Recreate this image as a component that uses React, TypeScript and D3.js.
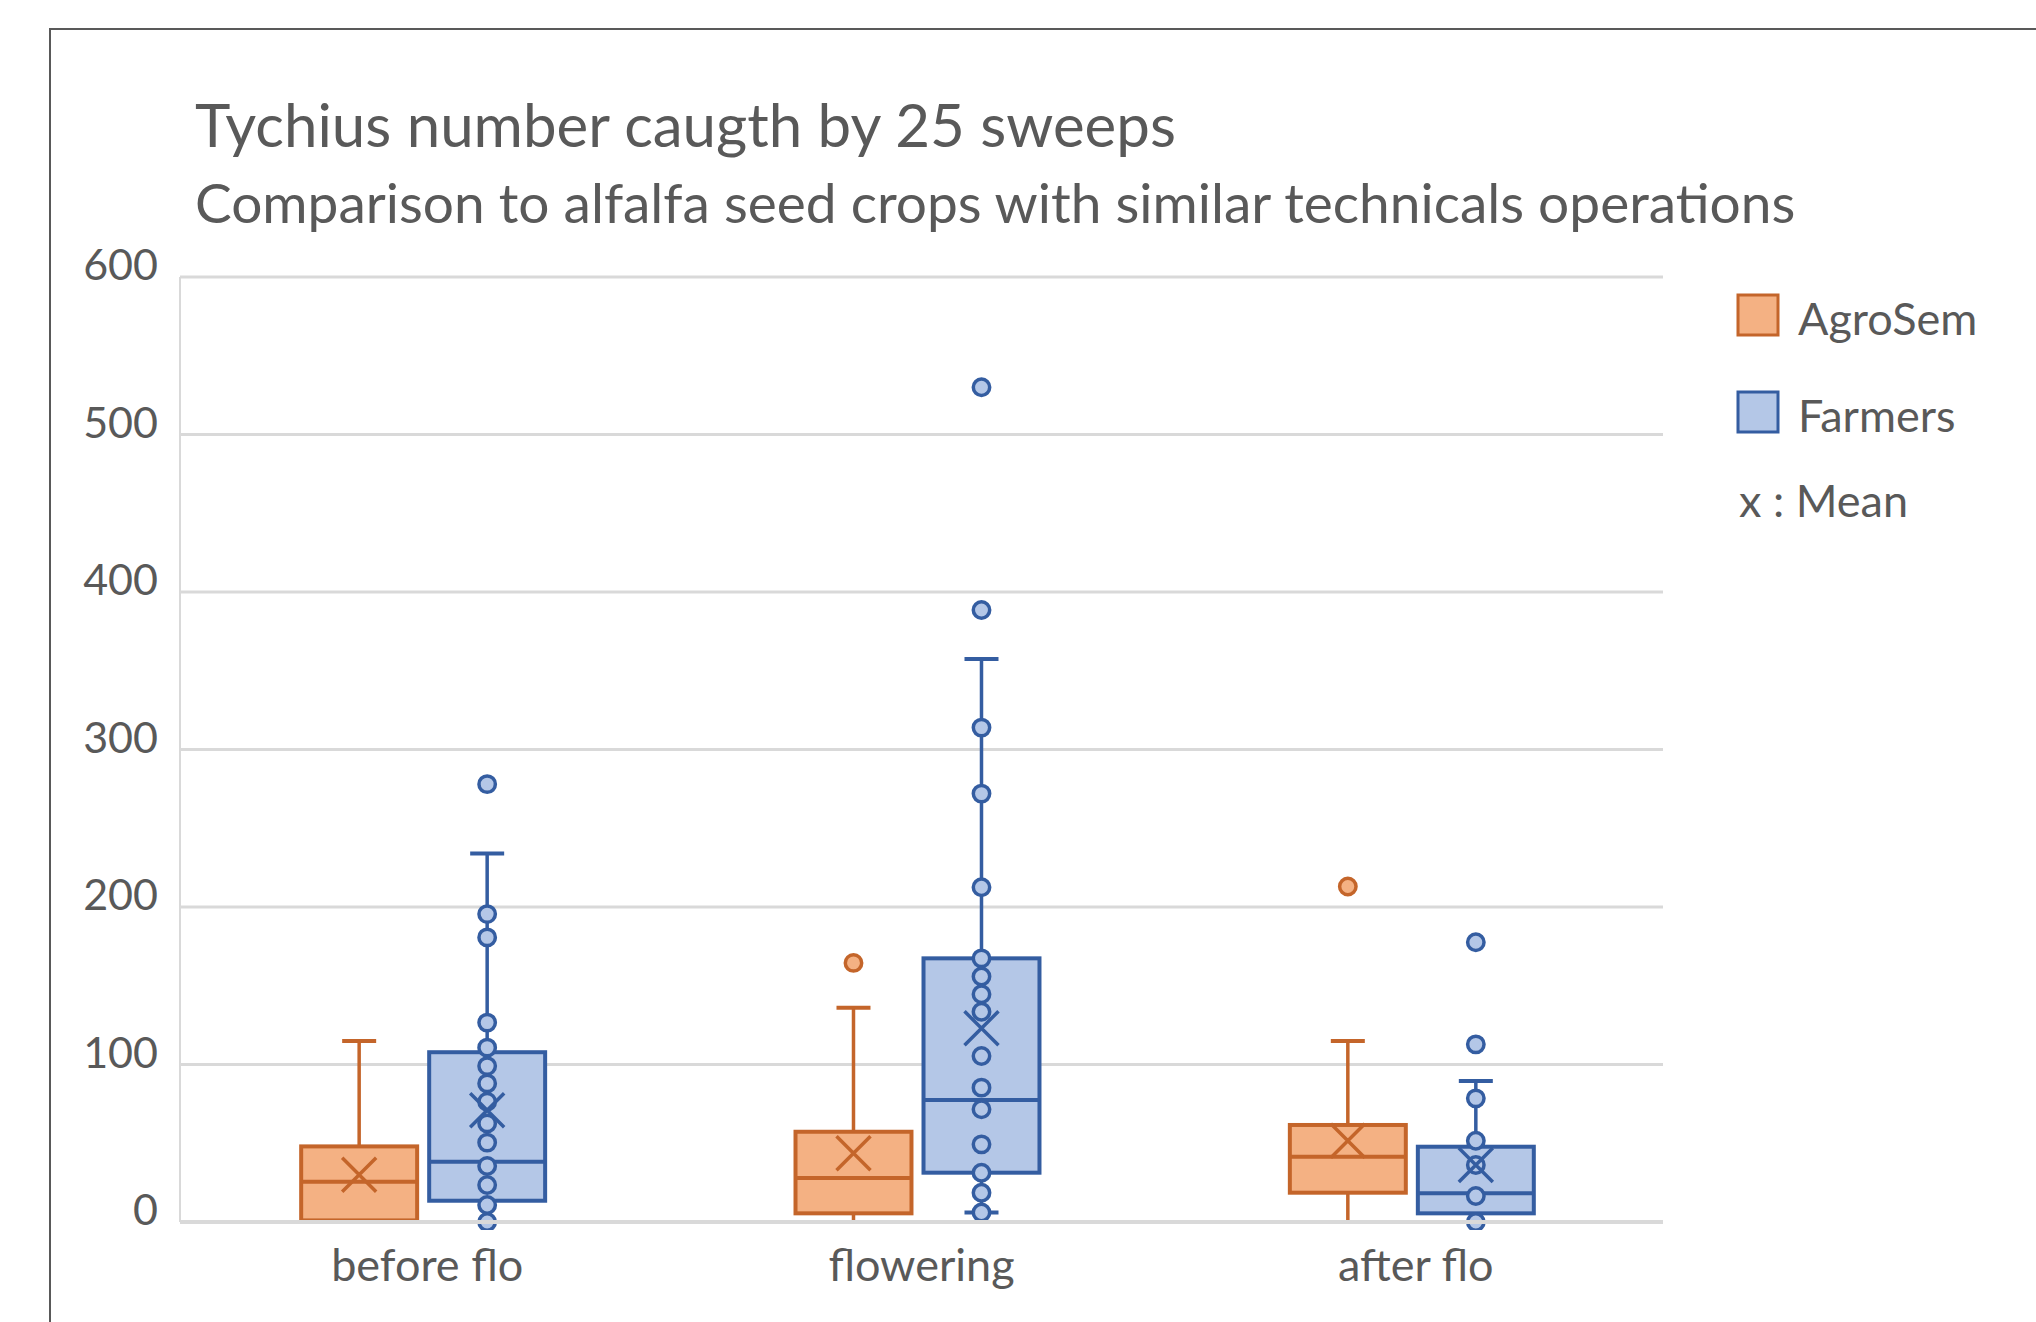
import React from 'react'
import * as d3 from 'd3'

const categories = ['before flo', 'flowering', 'after flo']
const seriesNames = ['AgroSem', 'Farmers']
const yTicks = [0, 100, 200, 300, 400, 500, 600]

// AgroSem
const agroMin = [0, 0, 0]
const agroQ1 = [1, 5.5, 18.6]
const agroMedian = [25.5, 28, 41.5]
const agroQ3 = [48, 57.3, 61.6]
const agroMax = [115, 136, 115]
const agroMean = [30, 43.6, 51.6]
const agroInner: number[][] = [[], [], []]
const agroOutliers = [[], [164.5], [213]]

// Farmers
const farmMin = [0, 6, 0]
const farmQ1 = [13.5, 31.3, 5.5]
const farmMedian = [38.3, 77.5, 18.3]
const farmQ3 = [107.8, 167.4, 47.8]
const farmMax = [234, 357.5, 89.5]
const farmMean = [71, 123, 36.2]
const farmInner = [
  [195.5, 180.7, 126.6, 110.7, 99, 88, 76.4, 62.6, 50.4, 35.6, 23.5, 10.8, 0],
  [313.9, 272, 212.5, 167.4, 155.9, 144.6, 133.5, 105.4, 85.3, 71.6, 49.3, 31.3, 18.6, 6],
  [78.5, 51.6, 36.2, 16.5, 0]
]
const farmOutliers = [[278], [388.6, 530], [112.8, 177.6]]

const W = 2036
const H = 1322
const plot = { left: 180, right: 1663, top: 277, bottom: 1222 }
const textColor = '#595959'
const gridColor = '#d9d9d9'
const font = 'Lato, "Open Sans", sans-serif'

const colors: Record<string, { fill: string; stroke: string }> = {
  AgroSem: { fill: '#f4b183', stroke: '#c4652a' },
  Farmers: { fill: '#b4c7e7', stroke: '#345da1' }
}

const stats = [
  { name: 'AgroSem', min: agroMin, q1: agroQ1, med: agroMedian, q3: agroQ3, max: agroMax, mean: agroMean, inner: agroInner, out: agroOutliers },
  { name: 'Farmers', min: farmMin, q1: farmQ1, med: farmMedian, q3: farmQ3, max: farmMax, mean: farmMean, inner: farmInner, out: farmOutliers }
]

const App = () => {
  const y = d3.scaleLinear().domain([0, 600]).range([plot.bottom, plot.top])
  const x0 = d3.scaleBand<string>().domain(categories).range([plot.left, plot.right])
  const x1 = d3
    .scaleBand<string>()
    .domain(seriesNames)
    .range([0, x0.bandwidth()])
    .paddingInner(0.094)
    .paddingOuter(0.978)
    .align(0.484)
  const bw = x1.bandwidth()
  const capHalf = 17
  const r = 8.2
  const xs = 17

  return (
    <div style={{ position: 'absolute', left: 0, top: 0 }}>
      <svg width={W} height={H} style={{ display: 'block', background: '#fff' }} fontFamily={font}>
        <defs>
          <clipPath id='plotClip'>
            <rect x={0} y={0} width={W} height={plot.bottom + 8} />
          </clipPath>
        </defs>
        <rect x={50} y={29} width={2100} height={1400} fill='#fff' stroke={textColor} strokeWidth={2} />

        <text x={195} y={147} fontSize={60} fill={textColor}>
          Tychius number caugth by 25 sweeps
        </text>
        <text x={195} y={223} fontSize={55} fill={textColor}>
          Comparison to alfalfa seed crops with similar technicals operations
        </text>

        {yTicks.map(t => (
          <g key={t}>
            {t > 0 && (
              <line x1={plot.left} x2={plot.right} y1={y(t)} y2={y(t)} stroke={gridColor} strokeWidth={3} />
            )}
            <text x={158} y={y(t) + 3} textAnchor='end' fontSize={43} fill={textColor}>
              {t}
            </text>
          </g>
        ))}
        <line x1={plot.left} x2={plot.left} y1={plot.top} y2={plot.bottom} stroke={gridColor} strokeWidth={2} />

        <g clipPath='url(#plotClip)'>
          {stats.map(s =>
            categories.map((c, i) => {
              const col = colors[s.name]
              const cx = (x0(c) ?? 0) + (x1(s.name) ?? 0) + bw / 2
              const left = cx - bw / 2
              const ym = y(s.mean[i])
              return (
                <g key={s.name + c}>
                  <line x1={cx} x2={cx} y1={y(s.q3[i])} y2={y(s.max[i])} stroke={col.stroke} strokeWidth={3.5} />
                  <line x1={cx} x2={cx} y1={y(s.q1[i])} y2={y(s.min[i])} stroke={col.stroke} strokeWidth={3.5} />
                  <line x1={cx - capHalf} x2={cx + capHalf} y1={y(s.max[i])} y2={y(s.max[i])} stroke={col.stroke} strokeWidth={4} />
                  <line x1={cx - capHalf} x2={cx + capHalf} y1={y(s.min[i])} y2={y(s.min[i])} stroke={col.stroke} strokeWidth={4} />
                  <rect
                    x={left}
                    y={y(s.q3[i])}
                    width={bw}
                    height={y(s.q1[i]) - y(s.q3[i])}
                    fill={col.fill}
                    stroke={col.stroke}
                    strokeWidth={4}
                  />
                  <line x1={left} x2={left + bw} y1={y(s.med[i])} y2={y(s.med[i])} stroke={col.stroke} strokeWidth={4} />
                  {s.inner[i].concat(s.out[i]).map((v, k) => (
                    <circle key={k} cx={cx} cy={y(v)} r={r} fill={col.fill} stroke={col.stroke} strokeWidth={3.5} />
                  ))}
                  <path
                    d={`M${cx - xs},${ym - xs}L${cx + xs},${ym + xs}M${cx - xs},${ym + xs}L${cx + xs},${ym - xs}`}
                    stroke={col.stroke}
                    strokeWidth={3.5}
                    fill='none'
                  />
                </g>
              )
            })
          )}
        </g>
        <line x1={plot.left} x2={plot.right} y1={y(0)} y2={y(0)} stroke={gridColor} strokeWidth={4} />

        {categories.map(c => (
          <text key={c} x={(x0(c) ?? 0) + x0.bandwidth() / 2} y={1281} textAnchor='middle' fontSize={45} fill={textColor}>
            {c}
          </text>
        ))}

        {seriesNames.map((n, i) => (
          <g key={n}>
            <rect x={1738} y={295 + i * 97} width={40} height={40} fill={colors[n].fill} stroke={colors[n].stroke} strokeWidth={3} />
            <text x={1798} y={335 + i * 97} fontSize={45} fill={textColor}>
              {n}
            </text>
          </g>
        ))}
        <text x={1739} y={517} fontSize={45} fill={textColor}>
          x : Mean
        </text>
      </svg>
    </div>
  )
}

export default App
